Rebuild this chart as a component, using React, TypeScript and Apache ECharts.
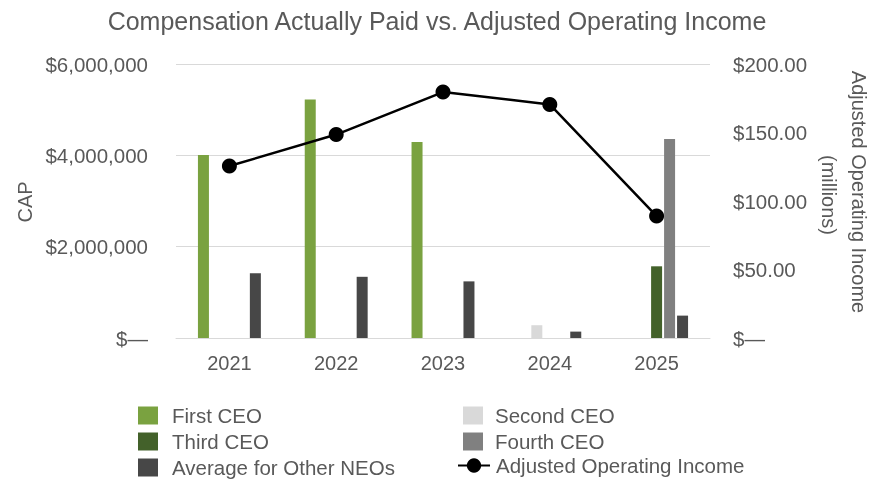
import React, { useEffect, useRef } from "react";
import * as echarts from "echarts";

const years = ["2021", "2022", "2023", "2024", "2025"];
const firstCEO = [4010000, 5220000, 4290000, null, null];
const secondCEO = [null, null, null, 280000, null];
const thirdCEO = [null, null, null, null, 1570000];
const fourthCEO = [null, null, null, null, 4360000];
const avgOtherNEOs = [1420000, 1340000, 1240000, 140000, 490000];
const adjOperatingIncome = [125.5, 148.5, 179.5, 170.5, 89];

const FONT = "'Liberation Sans', Arial, sans-serif";
const TXT = "#595959";

export default function App() {
  const ref = useRef<HTMLDivElement>(null);
  useEffect(() => {
    if (!ref.current) return;
    const chart = echarts.init(ref.current, undefined, { renderer: "svg" });
    const barBase = { type: "bar", barWidth: 11, barGap: "18%", yAxisIndex: 0 };
    const legendText = (pad: number) => ({
      color: TXT,
      fontSize: 20.5,
      lineHeight: 20,
      fontFamily: FONT,
      padding: [0, 0, 0, pad],
    });
    chart.setOption({
      animation: false,
      textStyle: { fontFamily: FONT },
      title: {
        text: "Compensation Actually Paid vs. Adjusted Operating Income",
        left: "center",
        top: 3,
        textStyle: { fontFamily: FONT, fontSize: 25, fontWeight: "normal", color: TXT },
      },
      grid: { left: 176, right: 164, top: 64, bottom: 144 },
      xAxis: {
        type: "category",
        data: years,
        axisTick: { show: false },
        axisLine: { lineStyle: { color: "#D9D9D9", width: 1 } },
        axisLabel: { color: TXT, fontSize: 20, fontFamily: FONT, margin: 15 },
      },
      yAxis: [
        {
          type: "value",
          min: 0,
          max: 6000000,
          interval: 2000000,
          axisLine: { show: false },
          axisTick: { show: false },
          splitLine: { lineStyle: { color: "#D9D9D9", width: 1 } },
          axisLabel: {
            color: TXT,
            fontSize: 20.5,
            fontFamily: FONT,
            margin: 28,
            formatter: (v: number) => (v === 0 ? "$\u2014" : "$" + v.toLocaleString("en-US")),
          },
        },
        {
          type: "value",
          min: 0,
          max: 200,
          interval: 50,
          position: "right",
          axisLine: { show: false },
          axisTick: { show: false },
          splitLine: { show: false },
          axisLabel: {
            color: TXT,
            fontSize: 20.5,
            fontFamily: FONT,
            margin: 23,
            formatter: (v: number) => (v === 0 ? "$\u2014" : "$" + v.toFixed(2)),
          },
        },
      ],
      legend: [
        {
          orient: "vertical",
          left: 138,
          top: 405,
          height: 120,
          width: 300,
          padding: 0,
          itemWidth: 20,
          itemHeight: 18,
          itemGap: 5,
          icon: "rect",
          data: ["First CEO", "Third CEO", "Average for Other NEOs"],
          textStyle: legendText(9),
        },
        {
          orient: "vertical",
          left: 463,
          top: 405,
          height: 120,
          width: 300,
          padding: 0,
          itemWidth: 20,
          itemHeight: 18,
          itemGap: 5,
          icon: "rect",
          data: ["Second CEO", "Fourth CEO"],
          textStyle: legendText(7),
        },
        {
          orient: "vertical",
          left: 457,
          top: 455,
          height: 60,
          width: 350,
          padding: 0,
          itemWidth: 32,
          itemHeight: 18,
          data: ["Adjusted Operating Income"],
          textStyle: legendText(1),
        },
      ],
      graphic: [
        {
          type: "text",
          x: 25,
          y: 202,
          rotation: Math.PI / 2,
          style: {
            text: "CAP",
            fill: TXT,
            font: `20px ${FONT}`,
            align: "center",
            verticalAlign: "middle",
          },
        },
        {
          type: "text",
          x: 859,
          y: 192,
          rotation: -Math.PI / 2,
          style: {
            text: "Adjusted Operating Income",
            fill: TXT,
            font: `20px ${FONT}`,
            align: "center",
            verticalAlign: "middle",
          },
        },
        {
          type: "text",
          x: 829,
          y: 195,
          rotation: -Math.PI / 2,
          style: {
            text: "(millions)",
            fill: TXT,
            font: `20px ${FONT}`,
            align: "center",
            verticalAlign: "middle",
          },
        },
      ],
      series: [
        { ...barBase, name: "First CEO", data: firstCEO, itemStyle: { color: "#7AA240" } },
        { ...barBase, name: "Second CEO", data: secondCEO, itemStyle: { color: "#D9D9D9" } },
        { ...barBase, name: "Third CEO", data: thirdCEO, itemStyle: { color: "#43612A" } },
        { ...barBase, name: "Fourth CEO", data: fourthCEO, itemStyle: { color: "#808080" } },
        { ...barBase, name: "Average for Other NEOs", data: avgOtherNEOs, itemStyle: { color: "#474747" } },
        {
          type: "line",
          name: "Adjusted Operating Income",
          yAxisIndex: 1,
          data: adjOperatingIncome,
          symbol: "circle",
          symbolSize: 15,
          lineStyle: { color: "#000000", width: 2.5 },
          itemStyle: { color: "#000000" },
          z: 5,
        },
      ],
    });
    return () => chart.dispose();
  }, []);
  return (
    <div
      ref={ref}
      style={{ position: "fixed", left: 0, top: 0, width: 874, height: 482 }}
    />
  );
}
